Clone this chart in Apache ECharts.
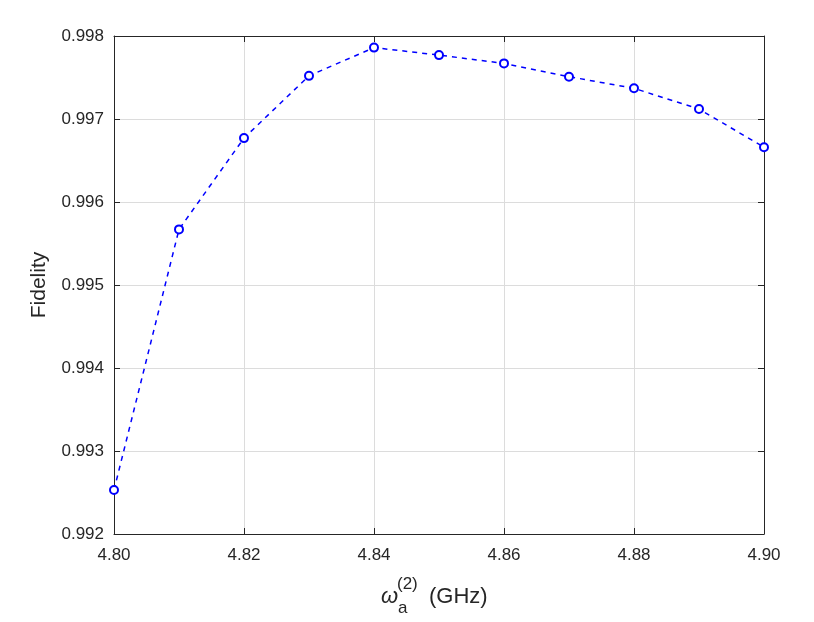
<!DOCTYPE html>
<html>
<head>
<meta charset="utf-8">
<script src="https://cdn.jsdelivr.net/npm/echarts@6/dist/echarts.min.js"></script>
<style>
html,body{margin:0;padding:0;background:#fff;}
#chart{width:814px;height:622px;}
</style>
</head>
<body>
<div id="chart"></div>
<script>
var frequencies = [4.80, 4.81, 4.82, 4.83, 4.84, 4.85, 4.86, 4.87, 4.88, 4.89, 4.90];
var fidelity = [0.99253, 0.99567, 0.99677, 0.99752, 0.99786, 0.99777, 0.99767, 0.99751, 0.99737, 0.99712, 0.99666];
var yLabel = 'Fidelity';

var FONT = '"Liberation Sans", Arial, Helvetica, sans-serif';
var TXT = '#262626';
var chart = echarts.init(document.getElementById('chart'), null, {renderer: 'canvas'});
var seriesData = frequencies.map(function (f, i) { return [f, fidelity[i]]; });

var option = {
  animation: false,
  backgroundColor: '#ffffff',
  grid: {left: 114, top: 36, right: 50, bottom: 88, containLabel: false},
  xAxis: [{
    type: 'value', min: 4.80, max: 4.90, interval: 0.02, position: 'bottom',
    axisLine: {show: true, onZero: false, lineStyle: {color: TXT, width: 1}},
    axisTick: {show: true, inside: true, length: 6, lineStyle: {color: TXT}},
    axisLabel: {color: TXT, fontSize: 17, fontFamily: FONT, margin: 13,
      formatter: function (v) { return v.toFixed(2); }},
    splitLine: {show: true, lineStyle: {color: '#dcdcdc', width: 1}}
  }, {
    type: 'value', min: 4.80, max: 4.90, interval: 0.02, position: 'top',
    axisLine: {show: true, onZero: false, lineStyle: {color: TXT, width: 1}},
    axisTick: {show: true, inside: true, length: 6, lineStyle: {color: TXT}},
    axisLabel: {show: false}, splitLine: {show: false}
  }],
  yAxis: [{
    type: 'value', min: 0.992, max: 0.998, interval: 0.001, position: 'left',
    name: yLabel, nameLocation: 'middle', nameGap: 64,
    nameTextStyle: {color: TXT, fontSize: 21, fontFamily: FONT},
    axisLine: {show: true, onZero: false, lineStyle: {color: TXT, width: 1}},
    axisTick: {show: true, inside: true, length: 6, lineStyle: {color: TXT}},
    axisLabel: {color: TXT, fontSize: 17, fontFamily: FONT, margin: 10,
      formatter: function (v) { return v.toFixed(3); }},
    splitLine: {show: true, lineStyle: {color: '#dcdcdc', width: 1}}
  }, {
    type: 'value', min: 0.992, max: 0.998, interval: 0.001, position: 'right',
    axisLine: {show: true, onZero: false, lineStyle: {color: TXT, width: 1}},
    axisTick: {show: true, inside: true, length: 6, lineStyle: {color: TXT}},
    axisLabel: {show: false}, splitLine: {show: false}
  }],
  series: [{
    type: 'line',
    data: seriesData,
    xAxisIndex: 0, yAxisIndex: 0,
    symbol: 'emptyCircle', symbolSize: 8,
    showAllSymbol: true,
    lineStyle: {color: '#0000ff', width: 1.5, type: [5, 5]},
    itemStyle: {color: '#0000ff', borderColor: '#0000ff', borderWidth: 1.5},
    clip: false
  }],
  graphic: [
    {type: 'text', left: 381, top: 586, style: {text: 'ω', font: 'italic 22px ' + FONT, fill: TXT}},
    {type: 'text', left: 397, top: 576, style: {text: '(2)', font: '17px ' + FONT, fill: TXT}},
    {type: 'text', left: 398, top: 600, style: {text: 'a', font: '17px ' + FONT, fill: TXT}},
    {type: 'text', left: 429, top: 586, style: {text: '(GHz)', font: '22px ' + FONT, fill: TXT}}
  ]
};
chart.setOption(option);
</script>
</body>
</html>
